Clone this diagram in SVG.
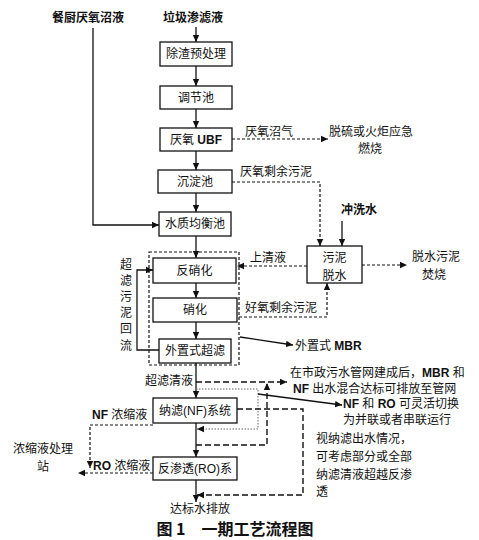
<svg xmlns="http://www.w3.org/2000/svg" width="479" height="540" viewBox="0 0 479 540">
<defs>
<marker id="ah" markerWidth="8" markerHeight="8" refX="7" refY="4" orient="auto" markerUnits="userSpaceOnUse">
<path d="M0,0.8 L7,4 L0,7.2 Z" fill="#111"/>
</marker>
<style>
.box{fill:#fff;stroke:#111;stroke-width:1.3}
.t{font-family:"Liberation Sans","Noto Sans CJK SC",sans-serif;font-size:12px;fill:#111;dominant-baseline:central}
.tb{font-family:"Liberation Sans","Noto Sans CJK SC",sans-serif;font-size:12px;font-weight:bold;fill:#111;dominant-baseline:central}
.c{text-anchor:middle}
.s{fill:none;stroke:#111;stroke-width:1.3}
.d{fill:none;stroke:#111;stroke-width:1.2;stroke-dasharray:3 2}
.dl{fill:none;stroke:#111;stroke-width:1.4;stroke-dasharray:6 3}
.dg{fill:none;stroke:#666;stroke-width:1;stroke-dasharray:1.5 1.5}
</style>
</defs>
<rect width="479" height="540" fill="#fff"/>

<g id="src-canteen"><text class="tb c" x="88" y="18">餐厨厌氧沼液</text></g>
<g id="src-leachate"><text class="tb c" x="193" y="18">垃圾渗滤液</text></g>

<g id="bio-frame"><rect class="d" x="149" y="252" width="90" height="113"/></g>

<g id="n1"><rect class="box" x="160" y="42" width="72" height="24"/><text class="t c" x="196" y="54">除渣预处理</text></g>
<g id="n2"><rect class="box" x="160" y="86" width="72" height="23"/><text class="t c" x="196" y="97.5">调节池</text></g>
<g id="n3"><rect class="box" x="160" y="128" width="72" height="23"/><text class="t c" x="196" y="139.5">厌氧 <tspan font-weight="bold">UBF</tspan></text></g>
<g id="n4"><rect class="box" x="158" y="170" width="74" height="23"/><text class="t c" x="195" y="181.5">沉淀池</text></g>
<g id="n5"><rect class="box" x="159" y="212" width="72" height="24"/><text class="t c" x="195" y="224">水质均衡池</text></g>
<g id="n6"><rect class="box" x="153" y="258" width="83" height="25"/><text class="t c" x="194.5" y="270.5">反硝化</text></g>
<g id="n7"><rect class="box" x="153" y="298" width="84" height="24"/><text class="t c" x="195" y="310">硝化</text></g>
<g id="n8"><rect class="box" x="159" y="339" width="72" height="24"/><text class="t c" x="195" y="351">外置式超滤</text></g>
<g id="n9"><rect class="box" x="153" y="398" width="84" height="25"/><text class="t c" x="195" y="410.5">纳滤(NF)系统</text></g>
<g id="n10"><rect class="box" x="153" y="457" width="84" height="23"/><text class="t c" x="195" y="468.5">反渗透(RO)系</text></g>
<g id="n11"><rect class="box" x="307" y="246" width="55" height="37"/><text class="t c" x="334.5" y="258">污泥</text><text class="t c" x="334.5" y="276">脱水</text></g>

<g id="connectors">
<line class="s" x1="196" y1="27" x2="196" y2="42" marker-end="url(#ah)"/>
<line class="s" x1="196" y1="66" x2="196" y2="86" marker-end="url(#ah)"/>
<line class="s" x1="196" y1="109" x2="196" y2="128" marker-end="url(#ah)"/>
<line class="s" x1="196" y1="151" x2="196" y2="170" marker-end="url(#ah)"/>
<line class="s" x1="196" y1="193" x2="196" y2="212" marker-end="url(#ah)"/>
<line class="s" x1="196" y1="236" x2="196" y2="258" marker-end="url(#ah)"/>
<line class="s" x1="196" y1="283" x2="196" y2="298" marker-end="url(#ah)"/>
<line class="s" x1="196" y1="322" x2="196" y2="339" marker-end="url(#ah)"/>
<line class="s" x1="196" y1="363" x2="196" y2="398" marker-end="url(#ah)"/>
<line class="s" x1="196" y1="423" x2="196" y2="457" marker-end="url(#ah)"/>
<line class="s" x1="196" y1="480" x2="196" y2="502" marker-end="url(#ah)"/>
<polyline class="s" points="93,28 93,225 159,225" marker-end="url(#ah)"/>
<line class="d" x1="232" y1="139" x2="328" y2="139" marker-end="url(#ah)"/>
<polyline class="d" points="232,182 320,182 320,246" marker-end="url(#ah)"/>
<line class="s" x1="342" y1="221" x2="342" y2="246" marker-end="url(#ah)"/>
<line class="d" x1="307" y1="266" x2="237" y2="266" marker-end="url(#ah)"/>
<polyline class="d" points="239,317 327,317 327,283" marker-end="url(#ah)"/>
<line class="d" x1="362" y1="265" x2="407" y2="265" marker-end="url(#ah)"/>
<polyline class="s" points="159,350 137,350 137,270 153,270" marker-end="url(#ah)"/>
<line class="s" x1="240" y1="337" x2="293" y2="345" marker-end="url(#ah)"/>
<line class="dl" x1="196" y1="382" x2="287" y2="382" marker-end="url(#ah)"/>
<polyline class="dl" points="196,445 267,445 267,383" marker-end="url(#ah)"/>
<polyline class="dg" points="196,389 258,389 258,429 197,429" marker-end="url(#ah)"/>
<line class="s" x1="258" y1="394" x2="342" y2="405" marker-end="url(#ah)"/>
<polyline class="dl" points="237,409 303,409 303,495 197,495" marker-end="url(#ah)"/>
<polyline class="d" points="153,425 90,425 90,468" marker-end="url(#ah)"/>
<line class="d" x1="153" y1="473" x2="78" y2="473" marker-end="url(#ah)"/>
</g>

<g id="labels">
<text class="t" x="245" y="132">厌氧沼气</text>
<text class="t" x="329" y="132">脱硫或火炬应急</text>
<text class="t c" x="370" y="149">燃烧</text>
<text class="t" x="240" y="172">厌氧剩余污泥</text>
<text class="tb c" x="359" y="210">冲洗水</text>
<text class="t" x="250" y="258">上清液</text>
<text class="t" x="245" y="308">好氧剩余污泥</text>
<text class="t" x="412" y="257">脱水污泥</text>
<text class="t c" x="434" y="275">焚烧</text>
<g>
<text class="t c" x="126" y="265">超</text>
<text class="t c" x="126" y="281">滤</text>
<text class="t c" x="126" y="297">污</text>
<text class="t c" x="126" y="313">泥</text>
<text class="t c" x="126" y="329">回</text>
<text class="t c" x="126" y="346">流</text>
</g>
<text class="t" x="295" y="346">外置式 <tspan font-weight="bold">MBR</tspan></text>
<text class="t" x="193" y="381" text-anchor="end">超滤清液</text>
<text class="t" x="290" y="373">在市政污水管网建成后，<tspan font-weight="bold">MBR</tspan> 和</text>
<text class="t" x="293" y="389"><tspan font-weight="bold">NF</tspan> 出水混合达标可排放至管网</text>
<text class="t" x="343" y="404"><tspan font-weight="bold">NF</tspan> 和 <tspan font-weight="bold">RO</tspan> 可灵活切换</text>
<text class="t" x="343" y="420">为并联或者串联运行</text>
<text class="t" x="316" y="439">视纳滤出水情况，</text>
<text class="t" x="316" y="457">可考虑部分或全部</text>
<text class="t" x="316" y="475">纳滤清液超越反渗</text>
<text class="t" x="316" y="492">透</text>
<text class="t" x="92" y="415"><tspan font-weight="bold">NF</tspan> 浓缩液</text>
<text class="t" x="93" y="466"><tspan font-weight="bold">RO</tspan> 浓缩液</text>
<text class="t c" x="43" y="449">浓缩液处理</text>
<text class="t c" x="43" y="467">站</text>
<text class="t c" x="200" y="509">达标水排放</text>
<text x="235" y="528" text-anchor="middle" dominant-baseline="central" font-family="'Noto Sans CJK SC',sans-serif" font-size="16" font-weight="bold" fill="#111">图 1　一期工艺流程图</text>
</g>
</svg>
